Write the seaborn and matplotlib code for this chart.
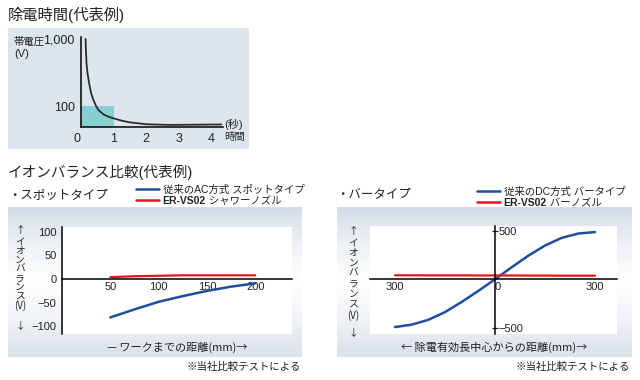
import numpy as np
import seaborn as sns
import matplotlib.pyplot as plt
from matplotlib.colors import LinearSegmentedColormap

# discharge time (representative example)
decay_time = [0.14, 0.15, 0.17, 0.20, 0.25, 0.31, 0.38, 0.46, 0.53, 0.69, 0.84, 1.0, 1.25, 1.5, 2.0, 2.7, 3.5, 4.3]
decay_voltage = [1000, 690, 433, 307, 218, 155, 123, 100, 81, 60, 49, 41, 30, 22, 13, 10, 11, 12]
target_time = 1
target_voltage = 100

# ion balance, spot type
spot_distance = [50, 75, 100, 125, 150, 175, 200]
spot_ac = [-81, -64, -48, -36, -25, -16, -9]
spot_vs02 = [4, 6, 7, 8, 8, 8, 8]

# ion balance, bar type
bar_distance = [-300, -250, -200, -150, -100, -50, 0, 50, 100, 150, 200, 250, 300]
bar_dc = [-495, -470, -420, -340, -235, -120, 0, 125, 245, 350, 430, 475, 490]
bar_vs02 = [42, 42, 41, 41, 41, 40, 40, 40, 39, 39, 38, 38, 38]

BLUE = '#1f4e9f'
RED = '#e8141c'
CJK = ['Noto Sans CJK JP', 'DejaVu Sans']

sns.set_style("white")
plt.rcParams['font.family'] = ['Liberation Sans', 'Noto Sans CJK JP']
plt.rcParams['text.color'] = '#222222'

W, H = 640, 380
fig = plt.figure(figsize=(6.4, 3.8), dpi=100)


def fx(x):
    return x / W


def fy(y):
    return 1 - y / H


def box(l, t, r, b):
    return [l / W, 1 - b / H, (r - l) / W, (b - t) / H]


def label(x, y, s, **kw):
    kw.setdefault('va', 'center')
    return fig.text(fx(x), fy(y), s, **kw)


# panel backgrounds
bg = fig.add_axes([0, 0, 1, 1])
bg.add_patch(plt.Rectangle((8, 28), 241, 121, color='#dde6ee', lw=0))
panel_cmap = LinearSegmentedColormap.from_list(
    'panel', ['#d3dde7', '#eef2f6', '#ffffff', '#f0f3f7', '#d9e1e9'])
grad = np.linspace(0, 1, 256)[:, None]
for l, r in [(8, 302), (337, 632)]:
    bg.imshow(grad, extent=(l, r, 357, 207), cmap=panel_cmap, aspect='auto')
bg.set_xlim(0, W)
bg.set_ylim(H, 0)
bg.axis('off')

# --- top chart: discharge time ---
K = 67 / 21


def fwd(v):
    v = np.asarray(v, float)
    return np.where(v <= 100, v / 100, 1 + K * np.log10(np.maximum(v, 100) / 100))


def inv(u):
    u = np.asarray(u, float)
    return np.where(u <= 1, u * 100, 100 * 10 ** ((np.maximum(u, 1) - 1) / K))


ax0 = fig.add_axes(box(81, 37, 223, 127))
ax0.set_facecolor('none')
ax0.set_yscale('function', functions=(fwd, inv))
ax0.fill_between([0, target_time], 0, target_voltage, color='#88cfd3', lw=0)
sns.lineplot(x=decay_time, y=decay_voltage, ax=ax0, color='#2b2b2b', lw=1.3)
ax0.set_xlim(0, 4.35)
ax0.set_ylim(0, float(inv(90 / 21)))
ax0.set(xlabel='', ylabel='')
ax0.set_xticks([0, 1, 2, 3, 4])
ax0.set_yticks([100, 1000], ['100', '1,000'])
ax0.minorticks_off()
ax0.tick_params(labelsize=9, length=2, width=0.8, pad=2.5, colors='#222222')
ax0.get_xticklabels()[0].set_ha('right')
for s in ['top', 'right']:
    ax0.spines[s].set_visible(False)
for s in ['left', 'bottom']:
    ax0.spines[s].set_color('black')
    ax0.spines[s].set_linewidth(1.1)

label(8, 15, '除電時間(代表例)', fontsize=11)
label(13, 42, '帯電圧', fontsize=7.5)
label(14, 54, '(V)', fontsize=8)
label(224, 124, '(秒)', fontsize=8)
label(224, 137, '時間', fontsize=7.5)

# --- bottom charts ---
label(8, 172, 'イオンバランス比較(代表例)', fontsize=10.5)
label(8, 195, '・スポットタイプ', fontsize=9)
label(336, 195, '・バータイプ', fontsize=9)


def style_ion_axes(ax):
    ax.set_facecolor('white')
    ax.set(xlabel='', ylabel='')
    ax.spines['top'].set_visible(False)
    ax.spines['bottom'].set_position(('data', 0))
    for s in ax.spines.values():
        s.set_color('black')
        s.set_linewidth(1.1)


def ion_legend(ax, x, y, rest):
    leg = ax.legend(loc='upper left', bbox_to_anchor=(fx(x), fy(y)),
                    bbox_transform=fig.transFigure, frameon=False, fontsize=7.5,
                    handlelength=2.2, handletextpad=0.35, labelspacing=0.1,
                    borderpad=0, borderaxespad=0)
    for line in leg.get_lines():
        line.set_linewidth(1.8)
    bold = leg.get_texts()[1]
    bold.set_fontweight('bold')
    ax.annotate(rest, xy=(1, 0.5), xycoords=bold, va='center', fontsize=7.5,
                zorder=10, annotation_clip=False)


# spot type
ax1 = fig.add_axes(box(62, 227, 292, 334))
sns.lineplot(x=spot_distance, y=spot_ac, ax=ax1, color=BLUE, lw=1.8,
             label='従来のAC方式 スポットタイプ')
sns.lineplot(x=spot_distance, y=spot_vs02, ax=ax1, color=RED, lw=1.6, label='ER-VS02')
style_ion_axes(ax1)
ax1.spines['right'].set_visible(False)
ax1.spines['left'].set_position(('data', 0))
ax1.set_xlim(0, 238)
ax1.set_ylim(-116, 110)
ax1.set_xticks([50, 100, 150, 200])
ax1.set_yticks([100, 50, 0, -50, -100])
ax1.tick_params(length=0, labelsize=8, colors='#222222')
ax1.tick_params(axis='y', pad=4)
ax1.tick_params(axis='x', pad=2)
ion_legend(ax1, 136, 185, ' シャワーノズル')

# bar type
ax2 = fig.add_axes(box(370, 226, 617, 334))
sns.lineplot(x=bar_distance, y=bar_dc, ax=ax2, color=BLUE, lw=1.8,
             label='従来のDC方式 バータイプ')
sns.lineplot(x=bar_distance, y=bar_vs02, ax=ax2, color=RED, lw=1.6, label='ER-VS02')
style_ion_axes(ax2)
ax2.spines['left'].set_visible(False)
ax2.spines['right'].set_position(('data', 0))
ax2.yaxis.tick_right()
ax2.set_xlim(-375, 366)
ax2.set_ylim(-567, 553)
ax2.set_xticks([-300, 0, 300], ['300', '0', '300'])
ax2.set_yticks([500, -500], ['500', '\u2212500'])
ax2.tick_params(axis='x', length=0, labelsize=8, pad=2, colors='#222222')
ax2.tick_params(axis='y', length=4.5, width=0.9, direction='inout', labelsize=8,
                pad=0.5, colors='#222222')
ax2.get_xticklabels()[1].set_ha('left')
ion_legend(ax2, 477, 187, ' バーノズル')

# vertical axis labels: arrows plus a stacked text
v_text = '\n'.join(['イ', 'オ', 'ン', 'バ', 'ラ', 'ン', 'ス', '(V)'])
label(20, 230, '↑', fontsize=7, ha='center', family=CJK)
label(20, 274, v_text, fontsize=7, ha='center', family=CJK, linespacing=0.89)
label(20, 325, '↓', fontsize=7, ha='center', family=CJK)
label(353, 231, '↑', fontsize=7, ha='center', family=CJK)
label(353, 279, v_text, fontsize=7, ha='center', family=CJK, linespacing=1.04)
label(353, 332, '↓', fontsize=7, ha='center', family=CJK)

label(177, 347, '— ワークまでの距離(mm)→', fontsize=8, ha='center', family=CJK)
label(494, 347, '← 除電有効長中心からの距離(mm)→', fontsize=8, ha='center', family=CJK)
label(301, 367, '※当社比較テストによる', fontsize=7.5, ha='right')
label(630, 367, '※当社比較テストによる', fontsize=7.5, ha='right')

fig.canvas.draw()
fig.savefig('out.png', dpi=100)
